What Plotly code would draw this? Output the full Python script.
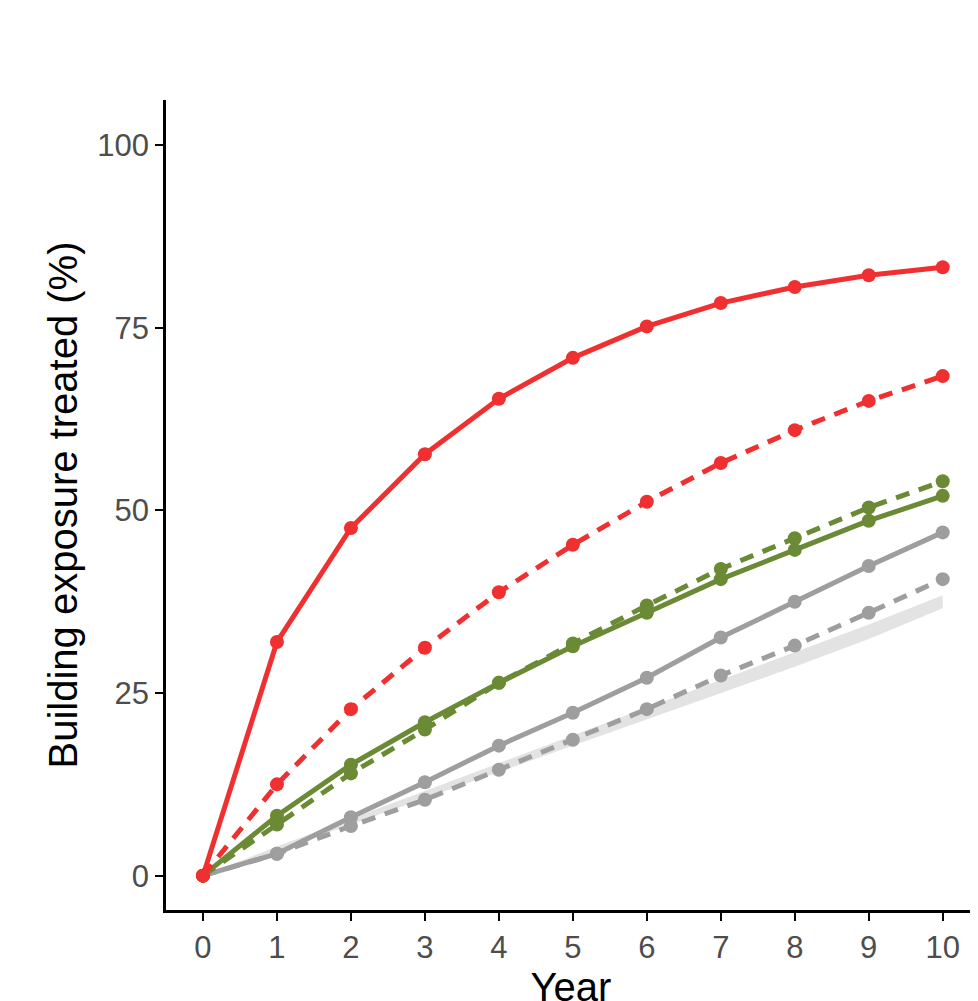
import plotly.graph_objects as go

years = list(range(11))
red_solid = [0, 32, 47.6, 57.7, 65.3, 70.9, 75.2, 78.4, 80.6, 82.2, 83.3]
red_dash = [0, 12.5, 22.8, 31.2, 38.8, 45.3, 51.2, 56.5, 61.0, 65.0, 68.4]
green_solid = [0, 8.2, 15.2, 21.0, 26.4, 31.4, 36.0, 40.6, 44.6, 48.6, 52.0]
green_dash = [0, 7.0, 14.0, 20.0, 26.4, 31.8, 37.0, 42.0, 46.2, 50.4, 54.0]
grey_solid = [0, 3.0, 8.0, 12.8, 17.8, 22.3, 27.1, 32.6, 37.5, 42.4, 47.0]
grey_dash = [0, 3.0, 6.8, 10.4, 14.5, 18.6, 22.8, 27.4, 31.5, 36.0, 40.6]
band_hi = [0, 4.0, 7.8, 11.6, 15.4, 19.2, 23.0, 26.8, 30.6, 34.4, 38.4]
band_lo = [0, 3.4, 7.0, 10.6, 14.2, 17.8, 21.4, 25.0, 28.6, 32.4, 36.6]

fig = go.Figure()

# light grey ribbon
fig.add_trace(go.Scatter(x=years, y=band_hi, mode="lines", line=dict(width=0), showlegend=False))
fig.add_trace(go.Scatter(x=years, y=band_lo, mode="lines", line=dict(width=0), fill="tonexty",
                         fillcolor="#e3e3e3", showlegend=False))

series = [
    (grey_dash, "#9e9e9e", "dash"),
    (grey_solid, "#9e9e9e", "solid"),
    (green_dash, "#6a8a35", "dash"),
    (green_solid, "#6a8a35", "solid"),
    (red_dash, "#f03030", "dash"),
    (red_solid, "#f03030", "solid"),
]
for vals, col, dash in series:
    fig.add_trace(go.Scatter(
        x=years, y=vals, mode="lines+markers",
        line=dict(color=col, width=5, dash="14px,10px" if dash == "dash" else "solid"),
        marker=dict(color=col, size=14),
        showlegend=False,
    ))

fig.update_layout(
    width=978, height=1001,
    margin=dict(l=158, r=10, t=92, b=89),
    plot_bgcolor="white", paper_bgcolor="white",
    font=dict(family="Liberation Sans", color="#4d4d4d"),
)
fig.update_xaxes(
    range=[-0.5, 10.45], tickvals=years, showgrid=False, zeroline=False,
    showline=True, linecolor="black", linewidth=2.5,
    ticks="outside", ticklen=8, tickwidth=2, tickcolor="black",
    tickfont=dict(size=31), title=dict(text="Year", font=dict(size=40, color="black"), standoff=6),
)
fig.update_yaxes(
    range=[-4.7, 106.2], tickvals=[0, 25, 50, 75, 100], showgrid=False, zeroline=False,
    showline=True, linecolor="black", linewidth=2.5,
    ticks="outside", ticklen=8, tickwidth=2, tickcolor="black",
    tickfont=dict(size=31),
    title=dict(text="Building exposure treated (%)", font=dict(size=40, color="black"), standoff=8),
)

fig.write_html("out.html")
